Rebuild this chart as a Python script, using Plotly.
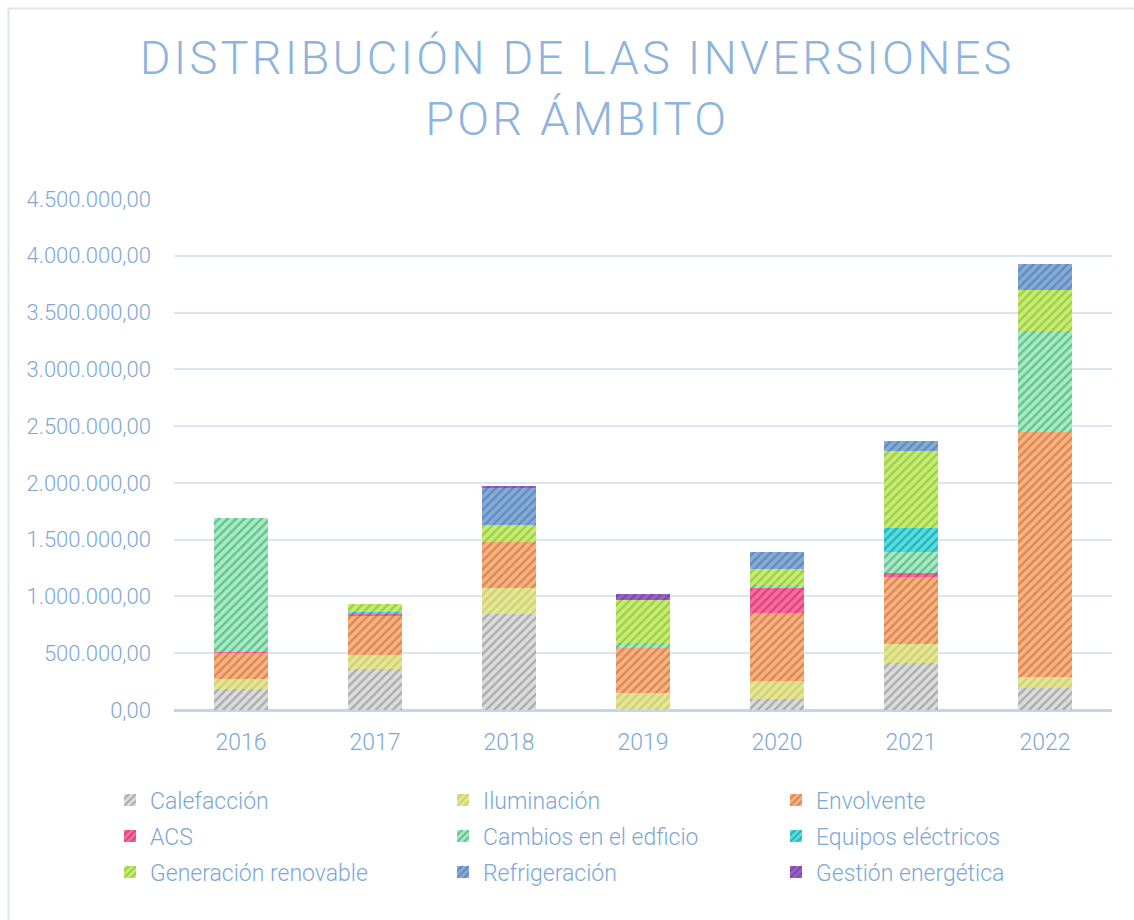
import plotly.graph_objects as go

years = ["2016", "2017", "2018", "2019", "2020", "2021", "2022"]

calefaccion = [182000, 361000, 846000, 0, 100000, 417000, 197000]
iluminacion = [88000, 123000, 232000, 147000, 156000, 167000, 97000]
envolvente = [232000, 344000, 405000, 402000, 602000, 587000, 2156000]
acs = [13000, 20000, 0, 0, 217000, 38000, 0]
cambios = [1178000, 0, 0, 38000, 26000, 185000, 884000]
equipos = [0, 12000, 0, 0, 0, 206000, 0]
generacion = [0, 70000, 147000, 385000, 144000, 681000, 364000]
refrigeracion = [0, 0, 330000, 0, 147000, 88000, 229000]
gestion = [0, 0, 13000, 53000, 0, 0, 0]

series_names = ["Calefacción", "Iluminación", "Envolvente", "ACS", "Cambios en el edficio",
                "Equipos eléctricos", "Generación renovable", "Refrigeración", "Gestión energética"]
series_values = [calefaccion, iluminacion, envolvente, acs, cambios, equipos, generacion,
                 refrigeracion, gestion]
bg_colors = ["#DCDCDC", "#E4E79A", "#F5B387", "#F2709E", "#B0E6C7", "#4DE3DA", "#C6EB7A",
             "#86ABD6", "#9A62C2"]
fg_colors = ["#7A7A7A", "#BABD40", "#C55A11", "#D6105A", "#00A84C", "#1A6FA6", "#74B400",
             "#3C6CA5", "#6A2C98"]

y_tickvals = [0, 500000, 1000000, 1500000, 2000000, 2500000, 3000000, 3500000, 4000000, 4500000]
y_ticktext = ["0,00", "500.000,00", "1.000.000,00", "1.500.000,00", "2.000.000,00",
              "2.500.000,00", "3.000.000,00", "3.500.000,00", "4.000.000,00", "4.500.000,00"]

FONT = "Roboto, sans-serif"
TXT = "#7EA7D6"

legend_ids = ["legend", "legend", "legend", "legend2", "legend2", "legend2",
              "legend3", "legend3", "legend3"]

fig = go.Figure()
for name, vals, bg, fg, lg in zip(series_names, series_values, bg_colors, fg_colors, legend_ids):
    fig.add_trace(go.Bar(
        x=years, y=vals, name=name, legend=lg,
        marker=dict(color=bg, line=dict(width=0),
                    pattern=dict(shape="/", bgcolor=bg, fgcolor=fg, size=6, solidity=0.4)),
    ))

title_txt = ('<span style="letter-spacing:3.2px">DISTRIBUCIÓN DE LAS INVERSIONES</span><br>'
             '<span style="letter-spacing:3.2px">POR ÁMBITO</span>')

leg_common = dict(orientation="h", x=(110 - 174) / 938, xanchor="left", yanchor="middle",
                  entrywidth=288, entrywidthmode="pixels",
                  font=dict(size=23, color=TXT), traceorder="normal", itemwidth=30,
                  bgcolor="rgba(0,0,0,0)")

fig.update_layout(
    width=1134, height=920,
    barmode="stack", bargap=0.6,
    paper_bgcolor="white", plot_bgcolor="white",
    margin=dict(l=174, r=22, t=199, b=210, autoexpand=False),
    font=dict(family=FONT, color=TXT, size=22, weight=300),
    title=dict(text=title_txt, x=0.509, xanchor="center",
               y=1 - 74 / 920, yanchor="top", yref="container",
               font=dict(family=FONT, size=47, color="#8DB4DE", weight=300)),
    xaxis=dict(showgrid=False, showline=False, tickfont=dict(size=23, color=TXT),
               ticks="", ticklabelstandoff=16),
    yaxis=dict(range=[0, 4500000], tickvals=y_tickvals, ticktext=y_ticktext,
               showgrid=True, gridcolor="#DCE6F2", gridwidth=2,
               zeroline=True, zerolinecolor="#C3D5EC", zerolinewidth=3,
               tickfont=dict(size=22, color=TXT), ticklabelstandoff=22),
    legend=dict(leg_common, y=(710 - 800) / 511),
    legend2=dict(leg_common, y=(710 - 836) / 511),
    legend3=dict(leg_common, y=(710 - 872) / 511),
    showlegend=True,
)

fig.add_shape(type="rect", xref="paper", yref="paper",
              x0=(8.5 - 174) / 938, x1=(1145 - 174) / 938,
              y0=(710 - 935) / 511, y1=(710 - 8.5) / 511,
              line=dict(color="#DCE6F2", width=2), fillcolor="rgba(0,0,0,0)", layer="below")

fig.write_html("out.html", config={"displayModeBar": False},
               post_script="document.body.style.margin='0';")
